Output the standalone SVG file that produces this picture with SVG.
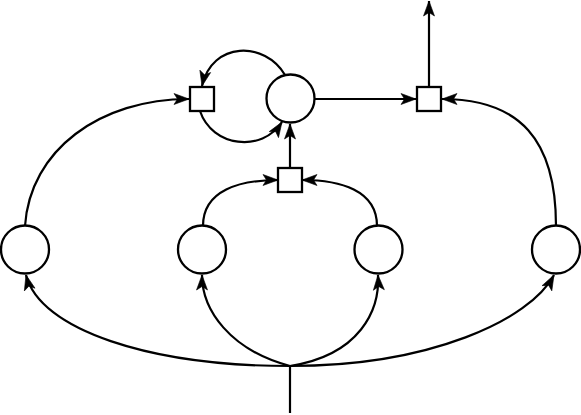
<svg xmlns="http://www.w3.org/2000/svg" width="581" height="415" viewBox="0 0 581 415">
<defs>
<style>
.place{fill:#fff;stroke:#000;stroke-width:2.3}
.trans{fill:#fff;stroke:#000;stroke-width:2.3}
.arc{fill:none;stroke:#000;stroke-width:2.2}
</style>
<marker id="ah" markerUnits="userSpaceOnUse" markerWidth="16" markerHeight="12" refX="15" refY="6" orient="auto" overflow="visible">
<path d="M0,0.5 L15,6 L0,11.5 L3.5,6 z" fill="#000" stroke="#000" stroke-width="0.6" stroke-linejoin="miter"/>
</marker>
</defs>
<g id="connectors">
<path class="arc" d="M285,75 C265,41 212,41 202,86" marker-end="url(#ah)"/>
<path class="arc" d="M200,111 C212,147 262,153 282,122" marker-end="url(#ah)"/>
<path class="arc" d="M315,99 L416,99" marker-end="url(#ah)"/>
<path class="arc" d="M429,87 L429,1" marker-end="url(#ah)"/>
<path class="arc" d="M290,168 L290,124" marker-end="url(#ah)"/>
<path class="arc" d="M25,226 C30,150 100,99 189,99" marker-end="url(#ah)"/>
<path class="arc" d="M556,226 C556,140 520,99 442,99" marker-end="url(#ah)"/>
<path class="arc" d="M203,226 C203,190 240,180 278,180" marker-end="url(#ah)"/>
<path class="arc" d="M377,226 C377,190 340,180 302,180" marker-end="url(#ah)"/>
<path class="arc" d="M290,413 L290,366"/>
<path class="arc" d="M290,366 C150,366 40,330 26,275" marker-end="url(#ah)"/>
<path class="arc" d="M290,366 C230,350 202,310 202,275" marker-end="url(#ah)"/>
<path class="arc" d="M290,366 C360,355 380,310 378,275" marker-end="url(#ah)"/>
<path class="arc" d="M290,366 C430,366 530,320 554,275" marker-end="url(#ah)"/>
</g>
<g id="p_top"><circle class="place" cx="290.5" cy="98.5" r="24"/></g>
<g id="p1"><circle class="place" cx="25" cy="249.5" r="24"/></g>
<g id="p2"><circle class="place" cx="202" cy="249.5" r="24"/></g>
<g id="p3"><circle class="place" cx="378.5" cy="249.5" r="24"/></g>
<g id="p4"><circle class="place" cx="556" cy="249.5" r="24"/></g>
<g id="t_left"><rect class="trans" x="190" y="87" width="24" height="24"/></g>
<g id="t_right"><rect class="trans" x="417" y="87" width="24" height="24"/></g>
<g id="t_mid"><rect class="trans" x="278" y="168" width="24" height="24"/></g>
</svg>
